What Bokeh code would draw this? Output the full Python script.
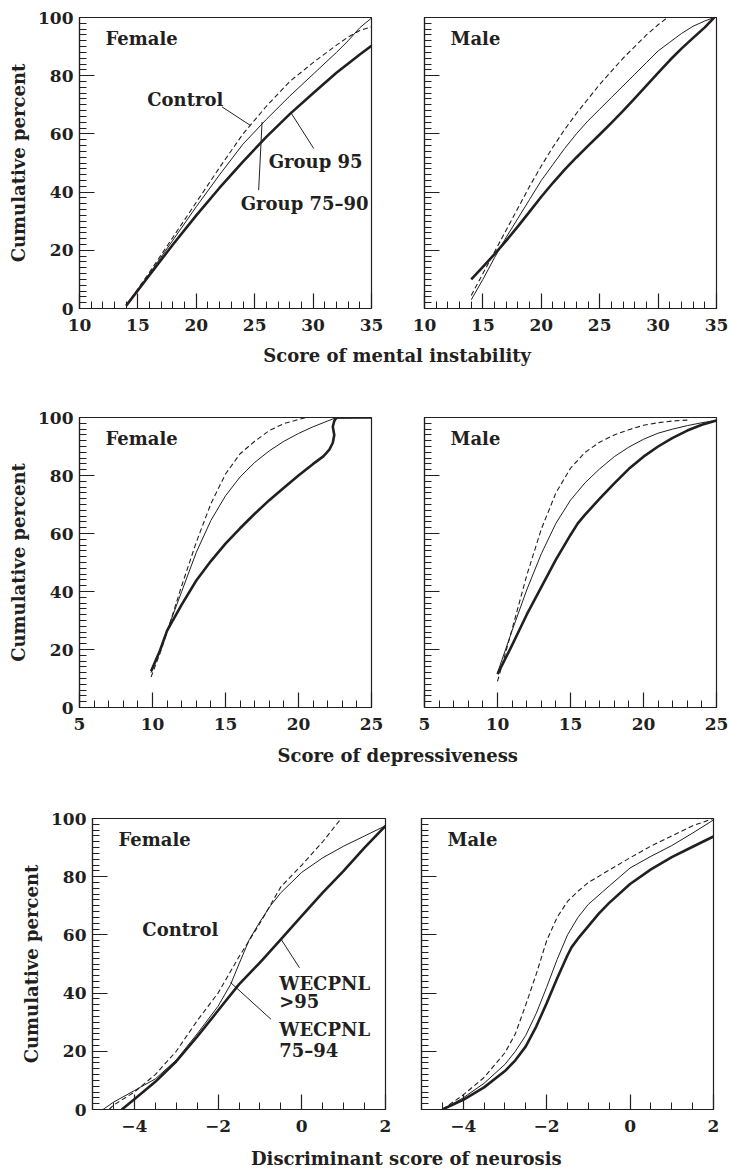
from bokeh.plotting import figure
from bokeh.layouts import column, row
from bokeh.models import FixedTicker, Label, Range1d
from bokeh.embed import file_html
from bokeh.resources import INLINE

FONT = "DejaVu Serif"
INK = "#231f20"
TXT = "18px"
TICK = "17px"
LBL_FIX = 7.0   # px: Label baselines render lower than requested

# ---------------- data ----------------
y_ticks = [0, 20, 40, 60, 80, 100]
y_labels = ["0", "20", "40", "60", "80", "100"]

# Score of mental instability
mi_xticks = [10, 15, 20, 25, 30, 35]
mi_xlabels = ["10", "15", "20", "25", "30", "35"]

mi_f_ctrl_x = [14, 16, 18, 20, 22, 24, 26, 28, 30, 32, 33, 34, 35]
mi_f_ctrl_y = [1, 12.5, 24.5, 36.5, 48.5, 60, 69.5, 78, 84.5, 90.5, 93.3, 95.5, 96.8]
mi_f_g7590_x = [14, 16, 18, 20, 22, 24, 26, 28, 30, 32, 33, 34, 35]
mi_f_g7590_y = [1, 12, 23.5, 35, 46, 56.5, 65, 73, 80.5, 88, 92, 96.5, 99.8]
mi_f_g95_x = [14, 16, 18, 20, 22, 24, 26, 28, 30, 32, 34, 35]
mi_f_g95_y = [1, 11.5, 22, 32, 41.5, 50.5, 59, 66.8, 74, 81, 87.3, 90.3]

mi_m_ctrl_x = [14, 15, 16, 17, 18, 19, 20, 21, 22, 23, 24, 25, 26, 27, 28, 29, 30, 30.8, 35]
mi_m_ctrl_y = [4.5, 12, 19.5, 27, 34.5, 42, 49, 55.5, 61.5, 67, 72, 77, 81.5, 86, 90, 94, 97.5, 100, 100]
mi_m_g7590_x = [14, 15, 16, 17, 18, 19, 20, 21, 22, 23, 24, 25, 26, 27, 28, 29, 30, 31, 32, 33, 34, 34.8]
mi_m_g7590_y = [3, 10, 17.5, 24.5, 31, 37.5, 44, 49.5, 55, 60, 64.5, 68.5, 72.5, 76.5, 80.5, 84.5, 88.5, 91.5, 94.5, 97, 98.8, 100]
mi_m_g95_x = [14, 15, 16, 17, 18, 19, 20, 21, 22, 23, 24, 25, 26, 27, 28, 29, 30, 31, 32, 33, 34, 34.8]
mi_m_g95_y = [10, 14.3, 18.7, 23.3, 28.2, 33.3, 38.4, 43.2, 47.7, 51.9, 55.9, 59.8, 63.8, 67.9, 72.2, 76.6, 81, 85.3, 89.3, 93, 96.6, 100]

# Score of depressiveness
dp_xticks = [5, 10, 15, 20, 25]
dp_xlabels = ["5", "10", "15", "20", "25"]

dp_f_ctrl_x = [9.9, 10.5, 11, 12, 13, 14, 15, 16, 17, 18, 19, 20, 20.5, 25]
dp_f_ctrl_y = [10.5, 18.5, 26, 42, 57, 70.3, 80.5, 87.5, 91.8, 95.5, 97.9, 99.3, 100, 100]
dp_f_g7590_x = [9.9, 10.5, 11, 12, 13, 14, 15, 16, 17, 18, 19, 20, 21, 22, 22.5, 25]
dp_f_g7590_y = [12, 19.5, 26.5, 40, 53.5, 64.5, 73, 79.5, 84.5, 88.5, 91.8, 94.5, 96.8, 98.8, 99.8, 100]
dp_f_g95_x = [9.9, 10.5, 11, 12, 13, 14, 15, 16, 17, 18, 19, 20, 21, 21.7, 22.1, 22.35, 22.45, 22.35, 22.45, 22.6, 25]
dp_f_g95_y = [12.5, 19.5, 26.5, 35.5, 43.8, 50.5, 56.5, 61.8, 66.8, 71.5, 75.8, 80, 84, 86.6, 88.8, 91.3, 94, 96.8, 98.8, 100, 100]

dp_m_ctrl_x = [10, 11, 12, 13, 14, 15, 16, 17, 18, 19, 20, 21, 22, 23]
dp_m_ctrl_y = [9, 27, 45.5, 61.5, 74, 82.5, 88, 91.5, 94, 95.8, 97.3, 98.2, 98.8, 99.1]
dp_m_g7590_x = [10, 11, 12, 13, 14, 15, 16, 17, 18, 19, 20, 21, 22, 23, 24, 25]
dp_m_g7590_y = [12, 26.5, 40.5, 53, 63.5, 71.5, 77.5, 82.3, 86.5, 89.8, 92.5, 94.6, 96, 97.2, 98.2, 99]
dp_m_g95_x = [10, 11, 12, 13, 14, 15, 15.5, 16, 17, 18, 19, 20, 21, 22, 23, 24, 25]
dp_m_g95_y = [11.5, 21.5, 32, 41.5, 51, 59.5, 63.5, 66.5, 72, 77.3, 82.3, 86.5, 90, 93, 95.5, 97.5, 99]

# Discriminant score of neurosis
ne_xticks = [-4, -2, 0, 2]
ne_xlabels = ["\u22124", "\u22122", "0", "2"]

ne_f_ctrl_x = [-4.6, -4.5, -4, -3.5, -3, -2.5, -2, -1.5, -1, -0.5, 0, 0.5, 0.94]
ne_f_ctrl_y = [0, 1.5, 6, 12, 20, 30.5, 40, 52.5, 64, 76.5, 84, 92, 100]
ne_f_g7594_x = [-4.75, -4.5, -4, -3.5, -3, -2.5, -2, -1.7, -1.5, -1.25, -1, -0.75, -0.5, 0, 0.5, 1, 1.5, 2]
ne_f_g7594_y = [0, 2.5, 6.5, 10.5, 17, 26, 35.5, 43, 50, 58.5, 64.5, 70, 74.5, 81.5, 86.5, 90.5, 94, 97.5]
ne_f_g95_x = [-4.3, -4, -3.5, -3, -2.5, -2, -1.5, -1, -0.5, 0, 0.5, 1, 1.5, 2]
ne_f_g95_y = [0, 3.5, 9.5, 16.5, 25, 34, 43, 50.5, 58.5, 66.5, 74.5, 82, 90, 97.5]

ne_m_ctrl_x = [-4.5, -4, -3.5, -3, -2.75, -2.5, -2.25, -2, -1.75, -1.5, -1.25, -1, -0.5, 0, 0.5, 1, 1.5, 2]
ne_m_ctrl_y = [0, 5, 11, 19.5, 26, 36, 46.5, 58, 66, 71.5, 75, 78, 82.3, 86.5, 90.5, 94, 97.5, 100]
ne_m_g7594_x = [-4.5, -4, -3.5, -3, -2.75, -2.5, -2.25, -2, -1.75, -1.5, -1.25, -1, -0.5, 0, 0.5, 1, 1.5, 2]
ne_m_g7594_y = [0, 4, 9, 15.5, 20, 25.5, 33, 42, 51.5, 60, 66, 70.5, 76.8, 83, 87, 90.7, 95, 99.5]
ne_m_g95_x = [-4.5, -4, -3.5, -3, -2.75, -2.5, -2.25, -2, -1.75, -1.5, -1.4, -1.25, -1, -0.75, -0.5, 0, 0.5, 1, 1.5, 2]
ne_m_g95_y = [0, 3.3, 7.6, 13.2, 16.9, 21.7, 28.5, 36.5, 45, 53, 55.8, 58.7, 63, 67.3, 71, 77.5, 82.5, 86.7, 90.3, 93.8]


# ---------------- helpers ----------------
def panel(xr, xticks, xlabels, xminor, show_y, bl, br, bt, bb, fw, fh):
    p = figure(x_range=Range1d(*xr), y_range=Range1d(0, 100),
               frame_width=fw, frame_height=fh,
               min_border_left=bl, min_border_right=br,
               min_border_top=bt, min_border_bottom=bb,
               output_backend="svg", toolbar_location=None, tools="")
    p.title.visible = False
    p.grid.visible = False
    p.outline_line_color = INK
    p.outline_line_width = 1.2
    xa = p.xaxis[0]
    ya = p.yaxis[0]
    xa.ticker = FixedTicker(ticks=xticks, minor_ticks=xminor)
    xa.major_label_overrides = dict(zip(xticks, xlabels))
    ya.ticker = FixedTicker(ticks=y_ticks, minor_ticks=list(range(0, 101, 2)))
    if show_y:
        ya.major_label_overrides = dict(zip(y_ticks, y_labels))
        ya.axis_label = "Cumulative percent"
        ya.axis_label_text_font = FONT
        ya.axis_label_text_font_size = TXT
        ya.axis_label_text_font_style = "bold"
        ya.axis_label_text_color = INK
        ya.axis_label_standoff = 6
    else:
        ya.major_label_overrides = {t: "" for t in y_ticks}
    for ax in (xa, ya):
        ax.major_tick_in = 15
        ax.major_tick_out = 0
        ax.minor_tick_in = 7
        ax.minor_tick_out = 0
        ax.axis_line_color = INK
        ax.axis_line_width = 1.2
        ax.major_tick_line_color = INK
        ax.minor_tick_line_color = INK
        ax.major_tick_line_width = 1.2
        ax.minor_tick_line_width = 1.0
        ax.major_label_text_font = FONT
        ax.major_label_text_font_size = TICK
        ax.major_label_text_font_style = "bold"
        ax.major_label_text_color = INK
    xa.major_label_standoff = 10
    ya.major_label_standoff = 6
    return p


def curves(p, cx, cy, ax_, ay_, bx, by):
    p.line(cx, cy, line_color=INK, line_width=1.1, line_dash="5 3")
    p.line(ax_, ay_, line_color=INK, line_width=1.0, line_join="round")
    p.line(bx, by, line_color=INK, line_width=2.6, line_join="round")


def note(p, fh, x, y, text):
    yy = y + LBL_FIX * 100.0 / fh
    p.add_layout(Label(x=x, y=yy, text=text, text_font=FONT, text_font_size=TXT,
                       text_font_style="bold", text_color=INK,
                       text_align="left", text_baseline="alphabetic"))


def sex_label(p, text, xr, fw, fh):
    x = xr[0] + 26.0 * (xr[1] - xr[0]) / fw
    y = 100 - 28.0 * 100 / fh
    note(p, fh, x, y, text)


def xtitle(text, w, h, xc, base_from_bottom):
    t = figure(width=w, height=h, x_range=Range1d(0, w), y_range=Range1d(0, h),
               x_axis_type=None, y_axis_type=None, min_border=0,
               output_backend="svg", toolbar_location=None, tools="",
               outline_line_color=None)
    t.title.visible = False
    t.grid.visible = False
    t.add_layout(Label(x=xc, y=base_from_bottom + LBL_FIX, text=text, text_font=FONT,
                       text_font_size=TXT, text_font_style="bold", text_color=INK,
                       text_align="center", text_baseline="alphabetic"))
    return t


W = 728

# ---------------- row 1: mental instability ----------------
mi_minor = list(range(10, 36))
mi_r = (10, 35)
A = panel(mi_r, mi_xticks, mi_xlabels, mi_minor, True, 79, 26, 17, 31, 292, 291)
curves(A, mi_f_ctrl_x, mi_f_ctrl_y, mi_f_g7590_x, mi_f_g7590_y, mi_f_g95_x, mi_f_g95_y)
sex_label(A, "Female", mi_r, 292, 291)
note(A, 291, 15.8, 69.3, "Control")
note(A, 291, 26.2, 48.1, "Group 95")
note(A, 291, 23.8, 33.8, "Group 75\u201390")
A.segment(x0=[22.2, 28.05, 25.63], y0=[69.3, 67.6, 64.1],
          x1=[24.63, 30.05, 25.34], y1=[62.9, 55.0, 40.7],
          line_color=INK, line_width=1.0)

B = panel(mi_r, mi_xticks, mi_xlabels, mi_minor, False, 27, 12, 17, 31, 292, 291)
curves(B, mi_m_ctrl_x, mi_m_ctrl_y, mi_m_g7590_x, mi_m_g7590_y, mi_m_g95_x, mi_m_g95_y)
sex_label(B, "Male", mi_r, 292, 291)

# row1 ends at 339; title strip 339..378, baseline at 362
T1 = xtitle("Score of mental instability", W, 39, 396.7, 378 - 362)

# ---------------- row 2: depressiveness ----------------
dp_minor = list(range(5, 26))
dp_r = (5, 25)
C = panel(dp_r, dp_xticks, dp_xlabels, dp_minor, True, 79, 26, 39, 31, 292, 290)
curves(C, dp_f_ctrl_x, dp_f_ctrl_y, dp_f_g7590_x, dp_f_g7590_y, dp_f_g95_x, dp_f_g95_y)
sex_label(C, "Female", dp_r, 292, 290)

D = panel(dp_r, dp_xticks, dp_xlabels, dp_minor, False, 27, 12, 39, 31, 292, 290)
curves(D, dp_m_ctrl_x, dp_m_ctrl_y, dp_m_g7590_x, dp_m_g7590_y, dp_m_g95_x, dp_m_g95_y)
sex_label(D, "Male", dp_r, 292, 290)

# row2 ends at 738; title strip 738..778, baseline at 762
T2 = xtitle("Score of depressiveness", W, 40, 397.2, 778 - 762)

# ---------------- row 3: neurosis ----------------
ne_minor = [-5 + 0.5 * i for i in range(15)]
ne_r = (-5, 2)
E = panel(ne_r, ne_xticks, ne_xlabels, ne_minor, True, 92, 18, 40, 29, 293, 291)
curves(E, ne_f_ctrl_x, ne_f_ctrl_y, ne_f_g7594_x, ne_f_g7594_y, ne_f_g95_x, ne_f_g95_y)
sex_label(E, "Female", ne_r, 293, 291)
note(E, 291, -3.81, 59.6, "Control")
note(E, 291, -0.54, 41.0, "WECPNL")
note(E, 291, -0.54, 34.6, ">95")
note(E, 291, -0.54, 25.0, "WECPNL")
note(E, 291, -0.54, 17.8, "75\u201394")
E.segment(x0=[-0.495, -1.70], y0=[58.5, 43.6], x1=[-0.055, -0.735], y1=[48.7, 31.0],
          line_color=INK, line_width=1.0)

F = panel(ne_r, ne_xticks, ne_xlabels, ne_minor, False, 18, 15, 40, 29, 292, 291)
curves(F, ne_m_ctrl_x, ne_m_ctrl_y, ne_m_g7594_x, ne_m_g7594_y, ne_m_g95_x, ne_m_g95_y)
sex_label(F, "Male", ne_r, 292, 291)

# row3 ends at 1138; title strip 1138..1170, baseline at 1165 (kept inside the page)
T3 = xtitle("Discriminant score of neurosis", W, 32, 405.8, 1170 - 1165)

layout = column(row(A, B), T1, row(C, D), T2, row(E, F), T3)
open("out.html", "w").write(file_html(layout, INLINE))
